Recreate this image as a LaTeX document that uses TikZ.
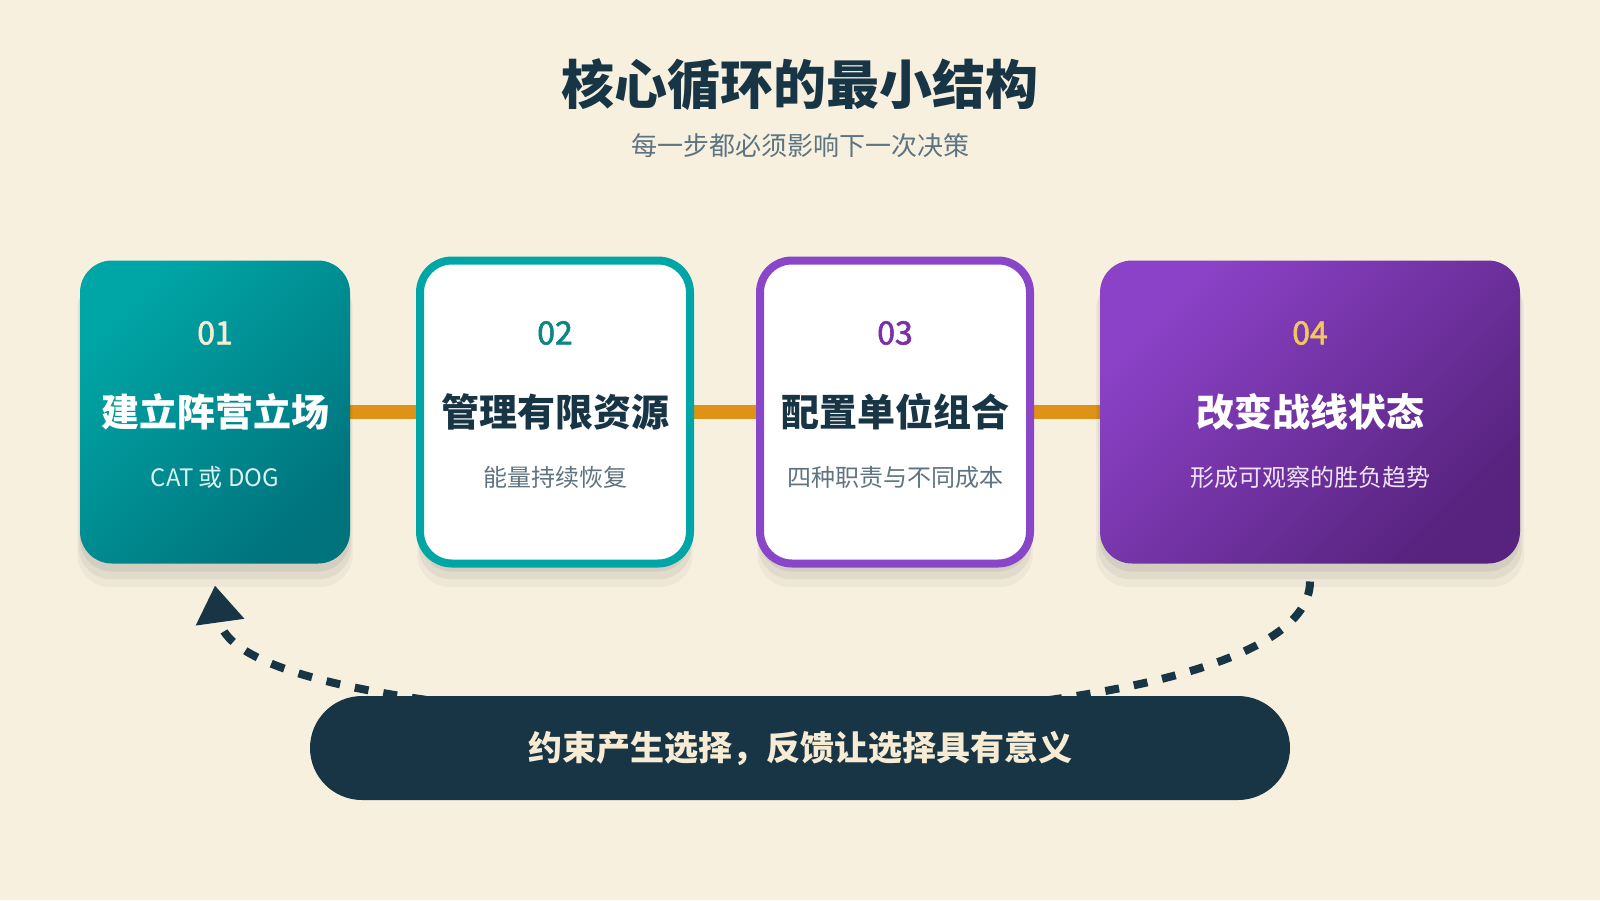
\documentclass[tikz,border=0pt]{standalone}
\usepackage{fontspec}
\setmainfont{Noto Sans CJK SC}
\newfontfamily\numfont[FakeBold=2]{Noto Sans CJK SC}
\usetikzlibrary{
arrows.meta,
backgrounds,
calc,
positioning,
shadows
}
\definecolor{paper}{HTML}{F7F0DF}
\definecolor{ink}{HTML}{183545}
\definecolor{greytext}{HTML}{5E7480}
\definecolor{tealA}{HTML}{00A6A6}
\definecolor{tealB}{HTML}{00737D}
\definecolor{tealnum}{HTML}{0E8585}
\definecolor{purpleA}{HTML}{8C42C8}
\definecolor{purpleB}{HTML}{57237E}
\definecolor{purpleC}{HTML}{8A46C8}
\definecolor{purplenum}{HTML}{7A30A8}
\definecolor{gold}{HTML}{F2C75C}
\definecolor{amber}{HTML}{DE9316}
\definecolor{cream}{HTML}{F7ECD3}
\tikzset{>=latex,
  card/.style={rectangle, rounded corners=16pt, minimum width=135pt, minimum height=151.5pt, inner sep=0pt, outer sep=0pt},
  shadowed/.style={
    drop shadow={shadow xshift=0pt, shadow yshift=-10pt, shadow scale=1.02, opacity=0.035, fill=black},
    drop shadow={shadow xshift=0pt, shadow yshift=-7pt, shadow scale=1.01, opacity=0.05, fill=black},
    drop shadow={shadow xshift=0pt, shadow yshift=-4pt, opacity=0.06, fill=black}},
  framed/.style={fill=white, line width=4pt},
  numtext/.style={font=\fontsize{16pt}{19pt}\numfont},
  headtext/.style={font=\fontsize{19pt}{22pt}\selectfont\bfseries},
  notetext/.style={font=\fontsize{12pt}{14pt}\selectfont},
  link/.style={amber, line width=7pt},
  loopline/.style={ink, line width=4pt, dash pattern=on 7pt off 7.5pt, -{Triangle[length=18.5pt,width=23.5pt]}},
  pill/.style={fill=ink, text=cream, rounded corners=26pt, minimum width=490pt, minimum height=52pt, font=\fontsize{17pt}{20pt}\selectfont\bfseries}
}
\begin{document}
\begin{tikzpicture}[x=0.5pt, y=-0.5pt, node distance=35pt]
	\begin{scope}[on background layer]
		\fill[paper] (0,0) rectangle (1600,900);
	\end{scope}
	\useasboundingbox (0,0) rectangle (1600,900);

	\node[ink, font=\fontsize{26.5pt}{30pt}\selectfont\bfseries] (title) at (800,85) {核心循环的最小结构};
	\node[greytext, font=\fontsize{13pt}{16pt}\selectfont] (subtitle) at (800,146) {每一步都必须影响下一次决策};

	% the four steps
	\node[card, shadowed, top color=tealA, bottom color=tealB, shading angle=45] (card1) at (215,412) {};
	\node[card, shadowed, framed, draw=tealA, right=of card1] (card2) {};
	\node[card, shadowed, framed, draw=purpleC, right=of card2] (card3) {};
	\node[card, shadowed, minimum width=210pt, top color=purpleA, bottom color=purpleB, shading angle=45, right=of card3] (card4) {};

	% texts on the cards
	\node[numtext, text=cream] (num1) at ([yshift=39.5pt]card1.center) {01};
	\node[headtext, text=white] (head1) at (card1.center) {建立阵营立场};
	\node[notetext, text=tealA!15] (note1) at ([yshift=-32.5pt]card1.center) {CAT 或 DOG};

	\node[numtext, text=tealnum] (num2) at ([yshift=39.5pt]card2.center) {02};
	\node[headtext, text=ink] (head2) at (card2.center) {管理有限资源};
	\node[notetext, text=greytext] (note2) at ([yshift=-32.5pt]card2.center) {能量持续恢复};

	\node[numtext, text=purplenum] (num3) at ([yshift=39.5pt]card3.center) {03};
	\node[headtext, text=ink] (head3) at (card3.center) {配置单位组合};
	\node[notetext, text=greytext] (note3) at ([yshift=-32.5pt]card3.center) {四种职责与不同成本};

	\node[numtext, text=gold] (num4) at ([yshift=39.5pt]card4.center) {04};
	\node[headtext, text=white] (head4) at (card4.center) {改变战线状态};
	\node[notetext, text=purpleA!15] (note4) at ([yshift=-32.5pt]card4.center) {形成可观察的胜负趋势};

	% links between the steps, behind the cards
	\begin{scope}[on background layer]
		\draw[link] (card1.center) -- (card2.center);
		\draw[link] (card2.center) -- (card3.center);
		\draw[link] (card3.center) -- (card4.center);
	\end{scope}

	% feedback loop back to the first step
	\coordinate (loopstart) at ([yshift=-9pt]card4.south);
	\coordinate (loopend) at ([yshift=-11pt]card1.south);
	\draw[loopline] (loopstart) .. controls (1310,765) and (238,752) .. (loopend);

	\node[pill] (motto) at (800,748) {约束产生选择，反馈让选择具有意义};
\end{tikzpicture}
\end{document}
